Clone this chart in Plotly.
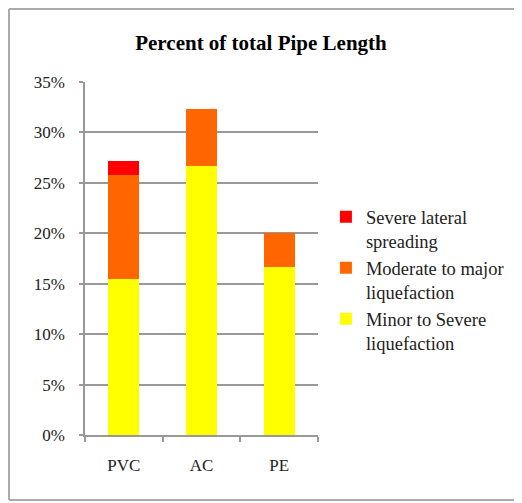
import plotly.graph_objects as go

categories = ["PVC", "AC", "PE"]
minor_to_severe = [0.155, 0.267, 0.167]
moderate_to_major = [0.103, 0.056, 0.033]
severe_lateral = [0.014, 0.0, 0.0]
y_ticks = [0, 0.05, 0.10, 0.15, 0.20, 0.25, 0.30, 0.35]
y_tick_labels = ["0%", "5%", "10%", "15%", "20%", "25%", "30%", "35%"]

FONT = "Liberation Serif, Times New Roman, serif"

W, H = 514, 495
PL, PR, PT, PB = 77, 310, 74, 427

fig = go.Figure()
fig.add_trace(go.Bar(x=categories, y=minor_to_severe, name="Minor to Severe<br>liquefaction",
                     marker=dict(color="#FFFF00", line=dict(width=0)), legendgroup="a", legendrank=3))
fig.add_trace(go.Bar(x=categories, y=moderate_to_major, name="Moderate to major<br>liquefaction",
                     marker=dict(color="#FF6600", line=dict(width=0)), legendgroup="b", legendrank=2))
fig.add_trace(go.Bar(x=categories, y=severe_lateral, name="Severe lateral<br>spreading",
                     marker=dict(color="#FF0000", line=dict(width=0)), legendgroup="c", legendrank=1))

pw = PR - PL
ph = PB - PT
bx0 = (1 - PL) / pw
bx1 = (W - PL) / pw
by0 = (PB - 492) / ph
by1 = (PB - 1) / ph
border = dict(color="#aaaaaa", width=2)

fig.update_layout(
    width=W, height=H,
    barmode="stack", bargap=0.6,
    plot_bgcolor="white", paper_bgcolor="white",
    margin=dict(l=PL, r=W - PR, t=PT, b=H - PB),
    font=dict(family=FONT, size=17, color="#222"),
    title=dict(text="<b>Percent of total Pipe Length</b>", x=(261 - 8) / W, xref="container",
               xanchor="center", y=1 - 35 / H, yref="container", yanchor="middle",
               font=dict(family=FONT, size=21, color="black")),
    showlegend=True,
    legend=dict(x=1.034, xanchor="left", y=0.671, yanchor="top",
                traceorder="grouped", tracegroupgap=0, valign="top",
                font=dict(family=FONT, size=18.5, color="#222"),
                itemwidth=30, bgcolor="rgba(0,0,0,0)"),
    xaxis=dict(showline=True, linecolor="#999", linewidth=1.5, ticks="outside",
               tickson="boundaries", ticklen=5, tickcolor="#999", tickwidth=1.5,
               showgrid=False, ticklabelstandoff=14,
               tickfont=dict(family=FONT, size=17, color="#222")),
    yaxis=dict(range=[0, 0.35], tickvals=y_ticks, ticktext=y_tick_labels,
               showline=True, linecolor="#999", linewidth=1.5, ticks="outside",
               ticklen=4, tickcolor="#999", tickwidth=1.5,
               showgrid=True, gridcolor="#999", gridwidth=1.5, ticklabelstandoff=11,
               zeroline=False, tickfont=dict(family=FONT, size=17, color="#222")),
    shapes=[
        dict(type="line", xref="paper", yref="paper", x0=bx0, x1=bx0, y0=by0, y1=by1, line=border, layer="below"),
        dict(type="line", xref="paper", yref="paper", x0=bx0, x1=bx1, y0=by1, y1=by1, line=border, layer="below"),
        dict(type="line", xref="paper", yref="paper", x0=bx0, x1=bx1, y0=by0, y1=by0, line=border, layer="below"),
    ],
)

fig.write_html("out.html")
